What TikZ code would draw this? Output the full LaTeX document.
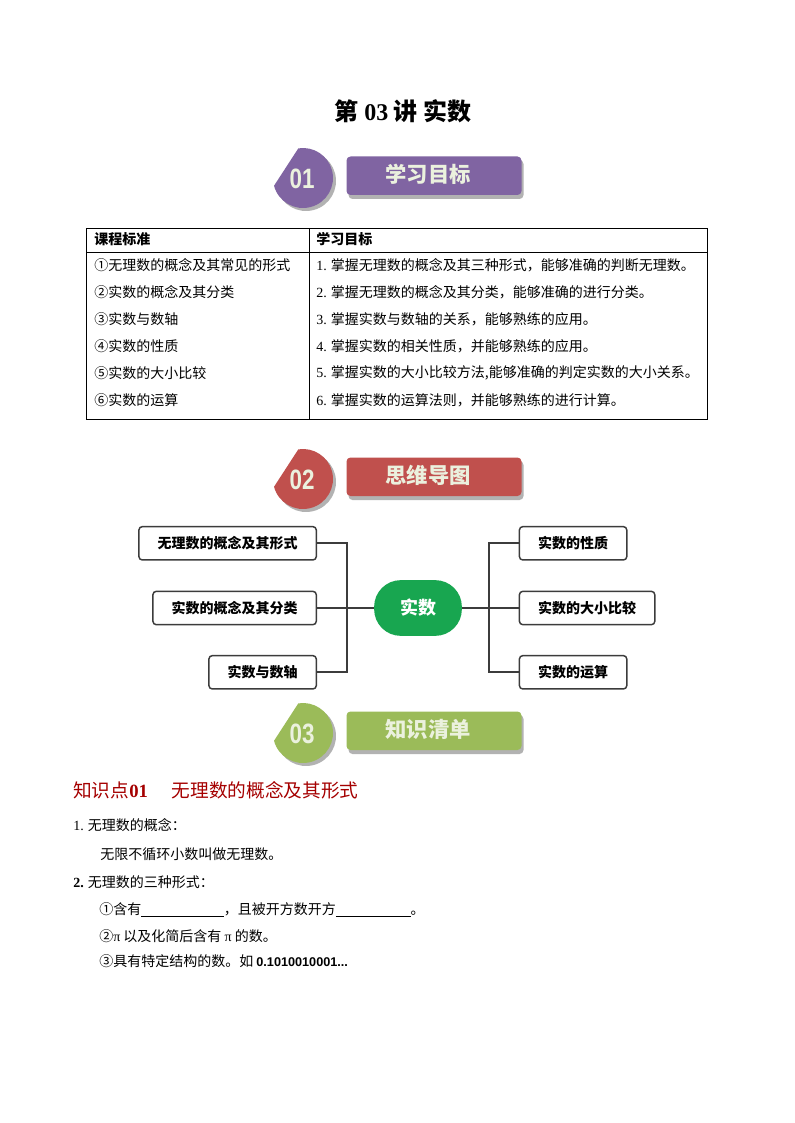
\documentclass[tikz,border=0pt]{standalone}
\usepackage{fontspec}
\setmainfont{Liberation Serif}
\newfontfamily\cjk{Noto Sans CJK SC}
\newfontfamily\arialfont{Liberation Sans}
\definecolor{tgpurple}{RGB}{128,100,162}
\definecolor{tgred}{RGB}{192,80,77}
\definecolor{tggreen}{RGB}{155,187,89}
\definecolor{tglight}{RGB}{235,241,222}
\definecolor{coregreen}{RGB}{24,166,80}
\definecolor{kpred}{RGB}{165,0,0}
\definecolor{linegray}{RGB}{60,60,60}

\begin{document}
\begin{tikzpicture}[x=0.75pt, y=-0.75pt,
  cell/.style={anchor=west, inner sep=0pt, font=\cjk\fontsize{10.5}{12}\selectfont},
  head/.style={anchor=west, inner sep=0pt, font=\cjk\bfseries\fontsize{10.5}{12}\selectfont},
  numtxt/.style={text=tglight, font=\arialfont\bfseries\fontsize{21}{24}\selectfont},
  bantxt/.style={text=tglight, font=\cjk\bfseries\fontsize{16}{18}\selectfont},
  leaf/.style={draw=linegray, line width=1.1pt, rounded corners=2.5pt, fill=white,
    inner xsep=14pt, minimum height=25pt, font=\cjk\bfseries\fontsize{10.5}{12}\selectfont},
  core/.style={fill=coregreen, text=white, rounded corners=20pt, minimum width=65.8pt,
    minimum height=41.8pt, font=\cjk\bfseries\fontsize{13.5}{15}\selectfont},
  link/.style={draw=linegray, line width=1.6pt},
  kphead/.style={anchor=west, inner sep=0pt, text=kpred, font=\cjk\fontsize{14}{16}\selectfont},
  ]

  \newcommand\Dtwo{301};
  \newcommand\Dthree{555};
  \newcommand\Yo{265};
  \newcommand\dY{27};

  \fill[white] (0,0) rectangle (794,1123);
  \useasboundingbox (0,0) rectangle (794,1123);

  \node[font=\cjk\bfseries\fontsize{18}{20}\selectfont] (title) at (403,111)
  {第 {\rmfamily\bfseries 03} 讲\ 实数};

  %% badge 01
  \fill[black!30] (306,181) ++(165:30) arc[start angle=165, end angle=-99, radius=30] -- cycle;
  \fill[tgpurple] (303,178) ++(165:30) arc[start angle=165, end angle=-99, radius=30] -- cycle;
  \fill[black!30, rounded corners=3pt] (348.5,160) rectangle (523.5,199);
  \fill[tgpurple, rounded corners=3pt] (346.5,156.5) rectangle (521.5,195);
  \node[numtxt] (n01) at (302,179) {\scalebox{0.8}[1]{01}};
  \node[bantxt] (t01) at (428,174) {学习目标};

  %% table
  \draw[line width=0.6pt] (86,228) rectangle (707,419);
  \draw[line width=0.6pt] (86,252) -- (707,252);
  \draw[line width=0.6pt] (309,228) -- (309,419);

  \node[head] (h1) at (94,239) {课程标准};
  \node[head] (h2) at (316,239) {学习目标};

  \node[cell] (c1) at (94,\Yo) {①无理数的概念及其常见的形式};
  \node[cell] (c2) at (94,\Yo+1*\dY) {②实数的概念及其分类};
  \node[cell] (c3) at (94,\Yo+2*\dY) {③实数与数轴};
  \node[cell] (c4) at (94,\Yo+3*\dY) {④实数的性质};
  \node[cell] (c5) at (94,\Yo+4*\dY) {⑤实数的大小比较};
  \node[cell] (c6) at (94,\Yo+5*\dY) {⑥实数的运算};

  \node[cell] (g1) at (316,\Yo) {{\rmfamily 1.} 掌握无理数的概念及其三种形式，能够准确的判断无理数。};
  \node[cell] (g2) at (316,\Yo+1*\dY) {{\rmfamily 2.} 掌握无理数的概念及其分类，能够准确的进行分类。};
  \node[cell] (g3) at (316,\Yo+2*\dY) {{\rmfamily 3.} 掌握实数与数轴的关系，能够熟练的应用。};
  \node[cell] (g4) at (316,\Yo+3*\dY) {{\rmfamily 4.} 掌握实数的相关性质，并能够熟练的应用。};
  \node[cell] (g5) at (316,\Yo+4*\dY) {{\rmfamily 5.} 掌握实数的大小比较方法,能够准确的判定实数的大小关系。};
  \node[cell] (g6) at (316,\Yo+5*\dY) {{\rmfamily 6.} 掌握实数的运算法则，并能够熟练的进行计算。};

  %% badge 02
  \fill[black!30] (306,181+\Dtwo) ++(165:30) arc[start angle=165, end angle=-99, radius=30] -- cycle;
  \fill[tgred] (303,178+\Dtwo) ++(165:30) arc[start angle=165, end angle=-99, radius=30] -- cycle;
  \fill[black!30, rounded corners=3pt] (348.5,160+\Dtwo) rectangle (523.5,199+\Dtwo);
  \fill[tgred, rounded corners=3pt] (346.5,156.5+\Dtwo) rectangle (521.5,195+\Dtwo);
  \node[numtxt] (n02) at (302,179+\Dtwo) {\scalebox{0.8}[1]{02}};
  \node[bantxt] (t02) at (428,174+\Dtwo) {思维导图};

  %% mind map
  \node[core] (core) at (418,608) {实数};

  \node[leaf, anchor=east] (m1) at (317,543.3) {无理数的概念及其形式};
  \node[leaf, anchor=east] (m2) at (317,608) {实数的概念及其分类};
  \node[leaf, anchor=east] (m3) at (317,672.3) {实数与数轴};

  \node[leaf, anchor=west] (r1) at (518.7,543.3) {实数的性质};
  \node[leaf, anchor=west] (r2) at (518.7,608) {实数的大小比较};
  \node[leaf, anchor=west] (r3) at (518.7,672.3) {实数的运算};

  \coordinate (busl) at (347,608);
  \coordinate (busr) at (489,608);

  \draw[link] (m1.east) -| (busl) -- (core.west);
  \draw[link] (m2.east) -- (busl);
  \draw[link] (m3.east) -| (busl);
  \draw[link] (core.east) -- (busr) |- (r1.west);
  \draw[link] (busr) -- (r2.west);
  \draw[link] (busr) |- (r3.west);

  %% badge 03
  \fill[black!30] (306,181+\Dthree) ++(165:30) arc[start angle=165, end angle=-99, radius=30] -- cycle;
  \fill[tggreen] (303,178+\Dthree) ++(165:30) arc[start angle=165, end angle=-99, radius=30] -- cycle;
  \fill[black!30, rounded corners=3pt] (348.5,160+\Dthree) rectangle (523.5,199+\Dthree);
  \fill[tggreen, rounded corners=3pt] (346.5,156.5+\Dthree) rectangle (521.5,195+\Dthree);
  \node[numtxt] (n03) at (302,179+\Dthree) {\scalebox{0.8}[1]{03}};
  \node[bantxt] (t03) at (428,174+\Dthree) {知识清单};

  %% knowledge point 01
  \node[kphead] (kp) at (73,790) {知识点{\rmfamily\bfseries 01}};
  \node[kphead] (kpt) at (171.7,790) {无理数的概念及其形式};

  \node[cell] (p1) at (73,825) {{\rmfamily 1.} 无理数的概念：};
  \node[cell] (p1a) at (100,854) {无限不循环小数叫做无理数。};
  \node[cell] (p2) at (73,882) {{\rmfamily\bfseries 2.} 无理数的三种形式：};
  \node[cell] (p2a) at (99,910) {①含有\underline{\hspace{62pt}}，且被开方数开方\underline{\hspace{56pt}}。};
  \node[cell] (p2b) at (99,936) {②{\rmfamily π} 以及化简后含有 {\rmfamily π} 的数。};
  \node[cell] (p2c) at (99,961) {③具有特定结构的数。如 {\arialfont\bfseries\fontsize{9.5}{11}\selectfont 0.1010010001...}};

\end{tikzpicture}
\end{document}
